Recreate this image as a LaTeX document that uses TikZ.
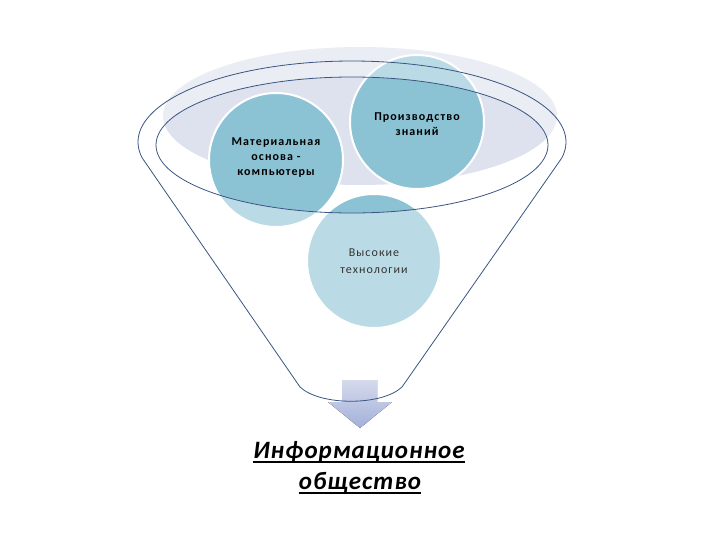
\documentclass[tikz,border=0pt]{standalone}
\usepackage{fontspec}
\setmainfont{Carlito}
\newfontfamily\bubfont[LetterSpace=9]{Carlito}
\newfontfamily\bigfont[LetterSpace=4]{Carlito}
\definecolor{bgcol}{HTML}{DDE2EE}
\definecolor{bubblecol}{HTML}{8CC3D4}
\definecolor{linecol}{HTML}{3A5582}
\definecolor{arrtop}{HTML}{D5DAEC}
\definecolor{arrbot}{HTML}{A2B0DA}
\definecolor{greytext}{HTML}{333333}
\begin{document}
\begin{tikzpicture}[x=1pt,y=-1pt,
  bubble/.style={circle, fill=bubblecol, draw=white, line width=2pt, minimum size=134pt, inner sep=0pt},
  btext/.style={font=\bubfont\fontsize{12}{15}\selectfont\bfseries, text=black, align=center, inner sep=0pt},
  rtext/.style={font=\bubfont\fontsize{12}{17}\selectfont, text=greytext, align=center, inner sep=0pt},
  bigtext/.style={font=\bigfont\fontsize{25}{28}\selectfont\bfseries\itshape, text=black, inner sep=0pt},
  funnelline/.style={draw=linecol, line width=0.8pt},
  uline/.style={line width=1.8pt, draw=black}]
\useasboundingbox (0,0) rectangle (720,540);
% background ellipse
\fill[bgcol] (360,116) ellipse [x radius=197pt, y radius=69pt];
% bubbles
\node[bubble] (c1) at (276,160) {};
\node[bubble] (c2) at (417,122) {};
\node[bubble] (c3) at (374,261) {};
% translucent funnel overlay
\fill[white, opacity=0.4, even odd rule] (0,0) rectangle (720,540) (352,145) ellipse [x radius=196pt, y radius=68pt];
% bubble texts
\node[btext] (t1) at (276,158) {Материальная\\основа -\\компьютеры};
\node[btext] (t2) at (417,124) {Производство\\знаний};
\node[rtext] (t3) at (374,261) {Высокие\\технологии};
% arrow
\fill[top color=arrtop, bottom color=arrbot] (342,380) -- (377,380) -- (377,402) -- (392,402) -- (360,428) -- (328,402) -- (342,402) -- cycle;
% funnel outline
\draw[funnelline] (300,387) -- plot[domain=168.6:371.4, samples=90] ({352+214*cos(\x)}, {142+81*sin(\x)}) -- (402,387) .. controls (382,406) and (320,406) .. (300,387) -- cycle;
\draw[funnelline] (352,145) ellipse [x radius=196pt, y radius=68pt];
% result text
\node[bigtext, anchor=base] (b1) at (359,458) {Информационное};
\node[bigtext, anchor=base] (b2) at (360,489) {общество};
\draw[uline] ([yshift=-4pt]b1.base west) -- ([yshift=-4pt]b1.base east);
\draw[uline] ([yshift=-4pt]b2.base west) -- ([yshift=-4pt]b2.base east);
\end{tikzpicture}
\end{document}
